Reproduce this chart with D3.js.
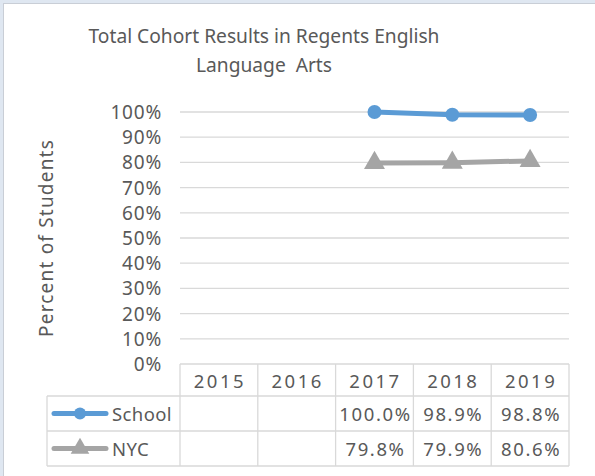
<!DOCTYPE html>
<html>
<head>
<meta charset="utf-8">
<script src="https://cdn.jsdelivr.net/npm/d3@7"></script>
<style>
  body { margin: 0; background: #fff; }
  svg text { font-family: "Noto Sans", sans-serif; fill: #595959; }
</style>
</head>
<body>
<div id="chart"></div>
<script>
// chart data
var years = ["2015", "2016", "2017", "2018", "2019"];
var schoolVals = [null, null, 1.000, 0.989, 0.988];
var nycVals = [null, null, 0.798, 0.799, 0.806];
var seriesNames = ["School", "NYC"];
var yTicks = [0, 0.1, 0.2, 0.3, 0.4, 0.5, 0.6, 0.7, 0.8, 0.9, 1.0];

var width = 595, height = 476;
var blue = "#5B9BD5", gray = "#A5A5A5", grid = "#D9D9D9";

var svg = d3.select("#chart").append("svg")
    .attr("width", width)
    .attr("height", height);

// outer frame
svg.append("rect").attr("x", 0).attr("y", 0).attr("width", width).attr("height", height).attr("fill", "#dfe7f1");
svg.append("rect").attr("x", 3.5).attr("y", 3.5).attr("width", width).attr("height", height)
    .attr("fill", "#fff").attr("stroke", "#c9ced6");

var x0 = 180, x1 = 569, yTop = 112, yBot = 364;

var x = d3.scaleBand().domain(years).range([x0, x1]);
var y = d3.scaleLinear().domain([0, 1]).range([yBot, yTop]);

// title
var title = svg.append("text").attr("text-anchor", "middle")
    .style("font-size", "19.2px").style("white-space", "pre");
title.append("tspan").attr("x", 264).attr("y", 43).text("Total Cohort Results in Regents English");
title.append("tspan").attr("x", 264).attr("y", 72).text("Language  Arts");

// gridlines
svg.append("g").selectAll("line")
    .data(yTicks.filter(function(d) { return d > 0; }))
    .enter().append("line")
    .attr("x1", x0).attr("x2", x1)
    .attr("y1", function(d) { return y(d); })
    .attr("y2", function(d) { return y(d); })
    .attr("stroke", grid).attr("stroke-width", 1.3);

// y tick labels
svg.append("g").selectAll("text")
    .data(yTicks)
    .enter().append("text")
    .attr("x", 162)
    .attr("y", function(d) { return y(d) + 7; })
    .attr("text-anchor", "end")
    .style("font-size", "19px")
    .style("letter-spacing", "0.8px")
    .text(d3.format(".0%"));

// y axis title
svg.append("text")
    .attr("transform", "translate(53,238) rotate(-90)")
    .attr("text-anchor", "middle")
    .style("font-size", "19px")
    .style("letter-spacing", "1.2px")
    .text("Percent of Students");

// data table
var rowTop = yBot, rowH1 = 32, rowH = 35;
var legX = 47;
var tbl = svg.append("g").attr("stroke", grid).attr("stroke-width", 1.3).attr("fill", "none");
// header row
tbl.append("line").attr("x1", x0).attr("x2", x1).attr("y1", rowTop).attr("y2", rowTop);
[0, 1, 2].forEach(function(i) {
  var yy = rowTop + rowH1 + i * rowH;
  tbl.append("line").attr("x1", legX).attr("x2", x1).attr("y1", yy).attr("y2", yy);
});
years.forEach(function(yr, i) {
  var xx = x(yr);
  tbl.append("line").attr("x1", xx).attr("x2", xx).attr("y1", rowTop).attr("y2", rowTop + rowH1 + 2 * rowH);
});
tbl.append("line").attr("x1", x1).attr("x2", x1).attr("y1", rowTop).attr("y2", rowTop + rowH1 + 2 * rowH);
tbl.append("line").attr("x1", legX).attr("x2", legX).attr("y1", rowTop + rowH1).attr("y2", rowTop + rowH1 + 2 * rowH);

svg.append("g").selectAll("text")
    .data(years)
    .enter().append("text")
    .attr("x", function(d) { return x(d) + x.bandwidth() / 2 + 1; })
    .attr("y", rowTop + 24)
    .attr("text-anchor", "middle")
    .style("font-size", "18.5px")
    .style("letter-spacing", "2.5px")
    .text(function(d) { return d; });

var pct = d3.format(".1%");
[schoolVals, nycVals].forEach(function(vals, r) {
  svg.append("g").selectAll("text")
      .data(years.map(function(yr, i) { return { yr: yr, v: vals[i] }; }).filter(function(d) { return d.v !== null; }))
      .enter().append("text")
      .attr("x", function(d) { return x(d.yr) + x.bandwidth() / 2 + 1; })
      .attr("y", rowTop + rowH1 + r * rowH + 25)
      .attr("text-anchor", "middle")
      .style("font-size", "18.5px")
      .style("letter-spacing", "1.6px")
      .text(function(d) { return pct(d.v); });
});

// lines
var line = d3.line()
    .defined(function(d) { return d.v !== null; })
    .x(function(d) { return x(d.yr) + x.bandwidth() / 2; })
    .y(function(d) { return y(d.v); });

function pts(vals) { return years.map(function(yr, i) { return { yr: yr, v: vals[i] }; }); }

svg.append("path").datum(pts(nycVals)).attr("d", line)
    .attr("fill", "none").attr("stroke", gray).attr("stroke-width", 5);
svg.append("g").selectAll("path")
    .data(pts(nycVals).filter(function(d) { return d.v !== null; }))
    .enter().append("path")
    .attr("d", d3.symbol(d3.symbolTriangle, 190))
    .attr("transform", function(d) { return "translate(" + (x(d.yr) + x.bandwidth() / 2) + "," + y(d.v) + ")"; })
    .attr("fill", gray);

svg.append("path").datum(pts(schoolVals)).attr("d", line)
    .attr("fill", "none").attr("stroke", blue).attr("stroke-width", 5);
svg.append("g").selectAll("circle")
    .data(pts(schoolVals).filter(function(d) { return d.v !== null; }))
    .enter().append("circle")
    .attr("cx", function(d) { return x(d.yr) + x.bandwidth() / 2; })
    .attr("cy", function(d) { return y(d.v); })
    .attr("r", 7)
    .attr("fill", blue);

// legend keys in table
var keyColors = [blue, gray];
seriesNames.forEach(function(name, r) {
  var cy = rowTop + rowH1 + r * rowH + rowH / 2;
  svg.append("line").attr("x1", 54).attr("x2", 106).attr("y1", cy).attr("y2", cy)
      .attr("stroke", keyColors[r]).attr("stroke-width", 5).attr("stroke-linecap", "round");
  if (r === 0) {
    svg.append("circle").attr("cx", 80).attr("cy", cy).attr("r", 6).attr("fill", blue);
  } else {
    svg.append("path").attr("d", d3.symbol(d3.symbolTriangle, 150))
        .attr("transform", "translate(80," + cy + ")").attr("fill", gray);
  }
  svg.append("text").attr("x", 112).attr("y", cy + 7)
      .style("font-size", "18.5px")
      .style("letter-spacing", "0.4px")
      .text(name);
});
</script>
</body>
</html>
